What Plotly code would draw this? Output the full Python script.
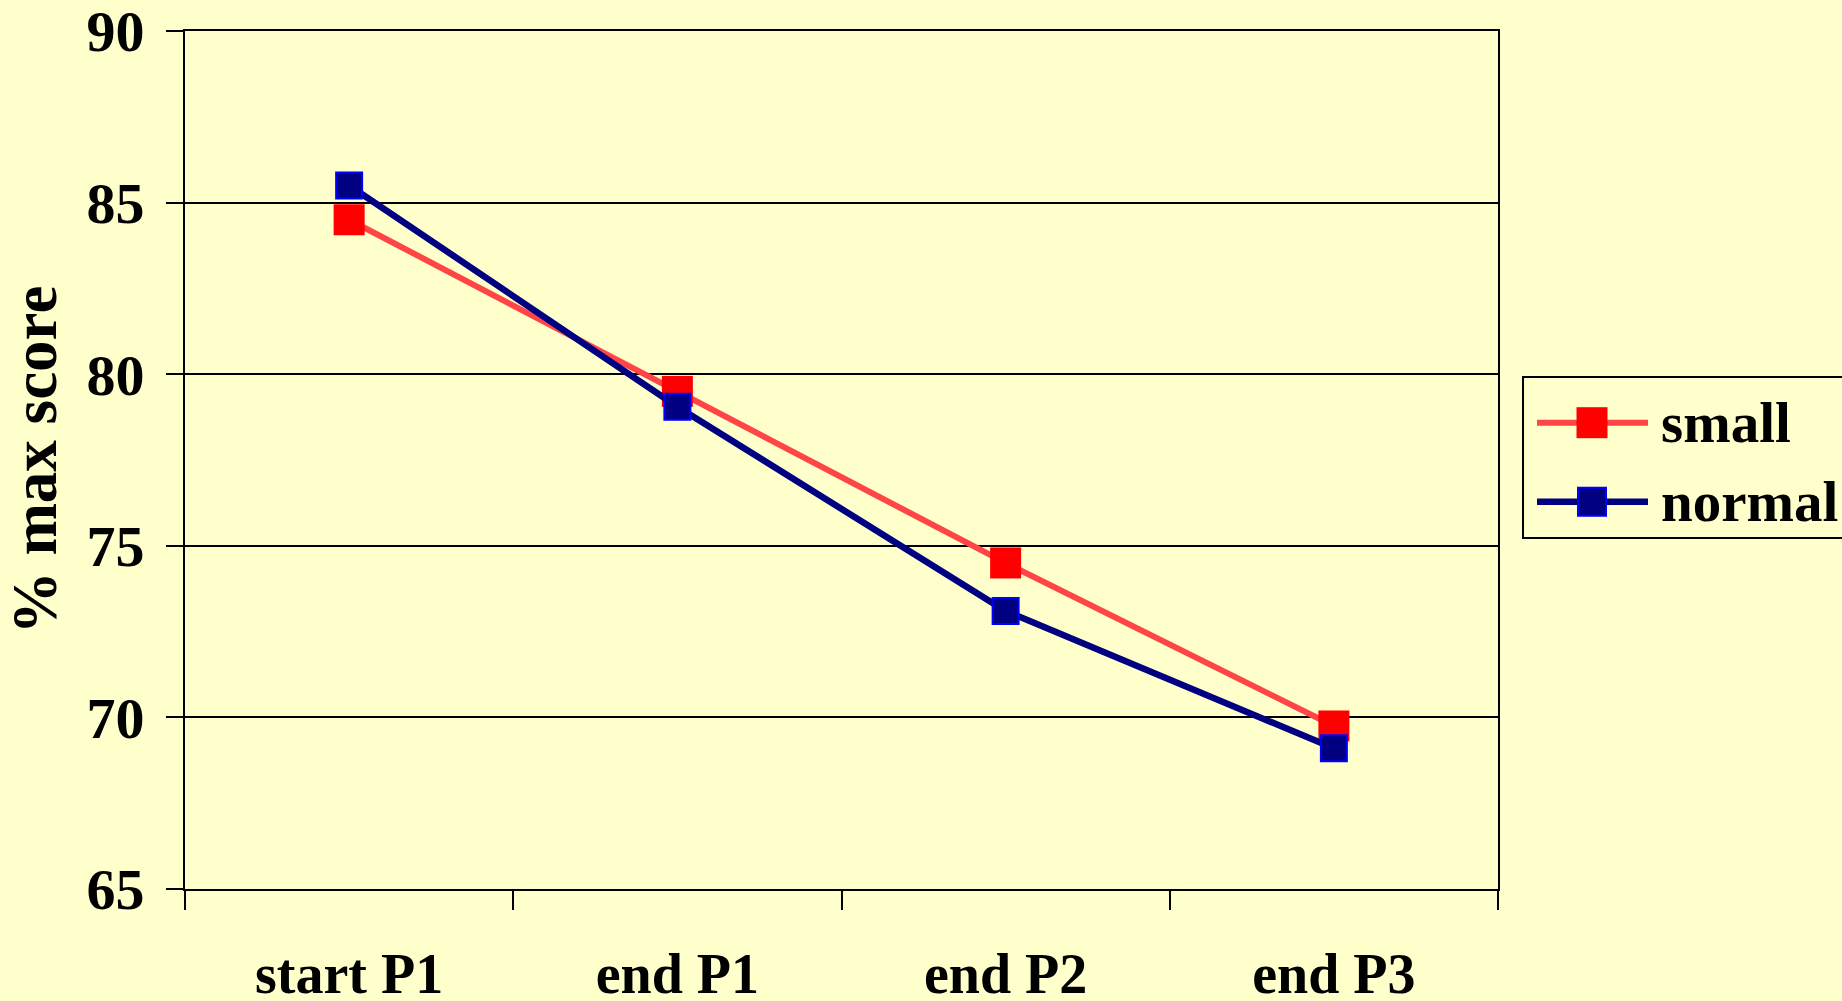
import plotly.graph_objects as go

categories = ["start P1", "end P1", "end P2", "end P3"]
small_vals = [84.5, 79.5, 74.5, 69.75]
normal_vals = [85.5, 79.05, 73.1, 69.1]
y_ticks = [65, 70, 75, 80, 85, 90]
series_names = ["small", "normal"]

BG = "#FFFFCC"
FONT = "Liberation Serif"
W, H = 1842, 1001
ML, MR, MT, MB = 185, 344, 31, 112
PW, PH = W - ML - MR, H - MT - MB


def px(x):
    return (x - ML) / PW


def py(y):
    return (H - MB - y) / PH


styles = [
    dict(line=dict(color="#FF4545", width=6),
         marker=dict(symbol="square", size=31, color="#FF0000", line=dict(width=0))),
    dict(line=dict(color="#000080", width=6.5),
         marker=dict(symbol="square", size=26, color="#000080", line=dict(width=2, color="#0000FF"))),
]

fig = go.Figure()
for name, vals, st in zip(series_names, [small_vals, normal_vals], styles):
    fig.add_trace(go.Scatter(x=categories, y=vals, name=name, mode="lines+markers",
                             line=st["line"], marker=st["marker"]))

# manual legend (box, symbols, labels)
shapes = [dict(type="rect", xref="paper", yref="paper",
               x0=px(1523), x1=px(1860), y0=py(538), y1=py(377),
               line=dict(color="black", width=2), fillcolor=BG, layer="above")]
annotations = []
rows = [(422.7, 31, 0, "#FF0000", "#FF4545", 6), (501.7, 28, 2, "#000080", "#000080", 6.5)]
for name, (ry, msz, mlw, mcol, lcol, lw) in zip(series_names, rows):
    shapes.append(dict(type="line", xref="paper", yref="paper",
                       x0=px(1537), x1=px(1648), y0=py(ry), y1=py(ry),
                       line=dict(color=lcol, width=lw), layer="above"))
    cx = 1592
    shapes.append(dict(type="rect", xref="paper", yref="paper",
                       x0=px(cx - msz / 2), x1=px(cx + msz / 2),
                       y0=py(ry + msz / 2), y1=py(ry - msz / 2),
                       fillcolor=mcol,
                       line=dict(color="#0000FF" if mlw else mcol, width=mlw if mlw else 0),
                       layer="above"))
    annotations.append(dict(text=name, xref="paper", yref="paper", x=px(1659), y=py(ry),
                            xanchor="left", yanchor="middle", showarrow=False,
                            font=dict(family=FONT, size=57, color="black", weight="bold")))

fig.update_layout(
    width=W, height=H,
    paper_bgcolor=BG, plot_bgcolor=BG,
    margin=dict(l=ML, r=MR, t=MT, b=MB, autoexpand=False),
    font=dict(family=FONT, color="black", size=58, weight="bold"),
    showlegend=False,
    shapes=shapes, annotations=annotations,
    xaxis=dict(
        type="category", range=[-0.5, 3.5], tickson="boundaries",
        ticks="outside", ticklen=19, tickwidth=2, tickcolor="black",
        showline=True, linecolor="black", linewidth=2, mirror=True,
        showgrid=False, zeroline=False,
        tickfont=dict(family=FONT, size=56, color="black", weight="bold"),
        ticklabelstandoff=35, ticklabeloverflow="allow",
    ),
    yaxis=dict(
        range=[65, 90], tickvals=y_ticks, ticktext=[str(v) for v in y_ticks],
        ticks="outside", ticklen=17, tickwidth=2, tickcolor="black",
        showline=True, linecolor="black", linewidth=2, mirror=True,
        showgrid=True, gridcolor="black", gridwidth=2, zeroline=False,
        tickfont=dict(family=FONT, size=58, color="black", weight="bold"),
        ticklabelstandoff=10, ticklabeloverflow="allow",
        title=dict(text="% max score", standoff=40,
                   font=dict(family=FONT, size=63, color="black", weight="bold")),
    ),
)

fig.write_html("out.html",
               config={"displayModeBar": False},
               post_script="document.body.style.margin='0';document.body.style.padding='0';"
                           "document.body.style.overflow='hidden';")
